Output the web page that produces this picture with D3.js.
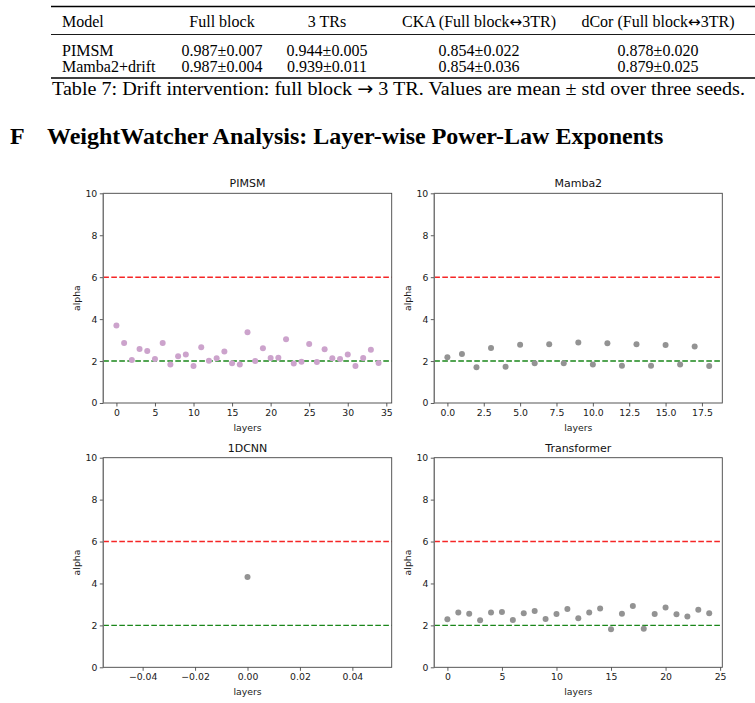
<!DOCTYPE html>
<html>
<head>
<meta charset="utf-8">
<script src="https://cdn.jsdelivr.net/npm/d3@7"></script>
<style>
  html, body { margin: 0; padding: 0; background: #fff; }
  svg { display: block; }
</style>
</head>
<body>
<svg id="chart" width="755" height="703"></svg>
<script>
// ---------- Table data ----------
const tableHeaders = [["Model"], ["Full block"], ["3 TRs"], ["CKA (Full block", "\u2194", "3TR)"], ["dCor (Full block", "\u2194", "3TR)"]];
const tableModels = ["PIMSM", "Mamba2+drift"];
const tableFullBlock = ["0.987\u00b10.007", "0.987\u00b10.004"];
const tableThreeTRs = ["0.944\u00b10.005", "0.939\u00b10.011"];
const tableCKA = ["0.854\u00b10.022", "0.854\u00b10.036"];
const tableDCor = ["0.878\u00b10.020", "0.879\u00b10.025"];
const tableCaption = ["Table 7: Drift intervention: full block ", "\u2192", " 3 TR. Values are mean \u00b1 std over three seeds."];
const sectionLetter = "F";
const sectionTitle = "WeightWatcher Analysis: Layer-wise Power-Law Exponents";

// ---------- Chart data (alpha per layer) ----------
const alphaPIMSM = [3.69, 2.86, 2.05, 2.58, 2.48, 2.10, 2.86, 1.84, 2.23, 2.31,
                    1.76, 2.66, 2.02, 2.13, 2.45, 1.89, 1.84, 3.37, 2.00, 2.61,
                    2.15, 2.16, 3.04, 1.88, 1.97, 2.81, 1.96, 2.56, 2.13, 2.10,
                    2.31, 1.76, 2.15, 2.54, 1.91];
const alphaMamba2 = [2.18, 2.34, 1.70, 2.62, 1.73, 2.78, 1.89, 2.80, 1.89, 2.89,
                     1.83, 2.85, 1.78, 2.80, 1.78, 2.77, 1.84, 2.70, 1.76];
const alpha1DCNN = [4.31];
const alphaTransformer = [2.29, 2.61, 2.56, 2.24, 2.61, 2.64, 2.26, 2.58, 2.69, 2.31,
                          2.54, 2.78, 2.34, 2.61, 2.81, 1.81, 2.56, 2.93, 1.84, 2.54,
                          2.85, 2.53, 2.42, 2.74, 2.58];
const panelTitles = ["PIMSM", "Mamba2", "1DCNN", "Transformer"];
const yTicks = [0, 2, 4, 6, 8, 10];
const xTicksPIMSM = [0, 5, 10, 15, 20, 25, 30, 35];
const xTicksMamba2 = [0, 2.5, 5, 7.5, 10, 12.5, 15, 17.5];
const xTicks1DCNN = [-0.04, -0.02, 0, 0.02, 0.04];
const xTicksTransformer = [0, 5, 10, 15, 20, 25];
const refLines = [6, 2];

const svg = d3.select("#chart");
const serif = "'Liberation Serif', 'Times New Roman', serif";
const sans = "'DejaVu Sans', sans-serif";
const symFont = "'DejaVu Sans', sans-serif";

function addParts(textSel, parts) {
  parts.forEach(s => {
    const t = textSel.append("tspan").text(s);
    if (s === "\u2194" || s === "\u2192") t.attr("font-family", symFont).attr("font-size", "0.95em");
  });
}

// ---------- Table ----------
const tbl = svg.append("g");
tbl.append("line").attr("x1", 51).attr("x2", 755).attr("y1", 6.5).attr("y2", 6.5)
   .attr("stroke", "#000").attr("stroke-width", 1.6);
tbl.append("line").attr("x1", 51).attr("x2", 755).attr("y1", 34.5).attr("y2", 34.5)
   .attr("stroke", "#000").attr("stroke-width", 0.9);
tbl.append("line").attr("x1", 51).attr("x2", 755).attr("y1", 78).attr("y2", 78)
   .attr("stroke", "#000").attr("stroke-width", 1.6);

const colX = [62, 222, 327, 479, 658];
const colAnchor = ["start", "middle", "middle", "middle", "middle"];
tableHeaders.forEach((parts, i) => {
  const t = tbl.append("text")
    .attr("x", colX[i]).attr("y", 27)
    .attr("text-anchor", colAnchor[i])
    .attr("font-family", serif).attr("font-size", 16).attr("fill", "#000");
  addParts(t, parts);
});

const rows = tableModels.map((m, i) => [m, tableFullBlock[i], tableThreeTRs[i], tableCKA[i], tableDCor[i]]);
rows.forEach((r, ri) => {
  tbl.selectAll("text.row" + ri).data(r).join("text")
    .attr("class", "row" + ri)
    .attr("x", (d, i) => colX[i]).attr("y", ri === 0 ? 56 : 72)
    .attr("text-anchor", (d, i) => colAnchor[i])
    .attr("font-family", serif).attr("font-size", 16).attr("fill", "#000")
    .text(d => d);
});
const cap = tbl.append("text").attr("x", 52).attr("y", 95)
  .attr("font-family", serif).attr("font-size", 19.5).attr("fill", "#000")
  .attr("textLength", 693).attr("lengthAdjust", "spacingAndGlyphs");
addParts(cap, tableCaption);

// ---------- Section heading ----------
svg.append("text").attr("x", 10).attr("y", 144)
  .attr("font-family", serif).attr("font-weight", "bold").attr("font-size", 24)
  .text(sectionLetter);
svg.append("text").attr("x", 47).attr("y", 144)
  .attr("font-family", serif).attr("font-weight", "bold").attr("font-size", 24)
  .text(sectionTitle);

// ---------- Panels ----------
function paddedDomain(n) {
  const lo = 0, hi = n - 1;
  if (hi === lo) return [lo - 0.055, hi + 0.055];
  const m = (hi - lo) * 0.05;
  return [lo - m, hi + m];
}

const panels = [
  { title: panelTitles[0], data: alphaPIMSM, color: "#cca3cc", ticks: xTicksPIMSM, fmt: d3.format("d"),
    x0: 103.3, x1: 391.7, y0: 193.3, y1: 403 },
  { title: panelTitles[1], data: alphaMamba2, color: "#939393", ticks: xTicksMamba2, fmt: d3.format(".1f"),
    x0: 434.3, x1: 722.3, y0: 193.3, y1: 403 },
  { title: panelTitles[2], data: alpha1DCNN, color: "#939393", ticks: xTicks1DCNN, fmt: d3.format(".2f"),
    x0: 103.3, x1: 391.7, y0: 457.7, y1: 667.3 },
  { title: panelTitles[3], data: alphaTransformer, color: "#939393", ticks: xTicksTransformer, fmt: d3.format("d"),
    x0: 434.3, x1: 722.3, y0: 457.7, y1: 667.3 }
];

panels.forEach(p => {
  const g = svg.append("g");
  const x = d3.scaleLinear().domain(paddedDomain(p.data.length)).range([p.x0, p.x1]);
  const y = d3.scaleLinear().domain([0, 10]).range([p.y1, p.y0]);

  // reference lines
  const refColors = ["#f52626", "#1a861a"];
  refLines.forEach((v, i) => {
    g.append("line")
      .attr("x1", p.x0).attr("x2", p.x1)
      .attr("y1", y(v)).attr("y2", y(v))
      .attr("stroke", refColors[i]).attr("stroke-width", 1.4)
      .attr("stroke-dasharray", "5.6,2.4");
  });

  // points
  g.selectAll("circle").data(p.data).join("circle")
    .attr("cx", (d, i) => x(i))
    .attr("cy", d => y(d))
    .attr("r", 3)
    .attr("fill", p.color);

  // axes
  const xAxis = d3.axisBottom(x).tickValues(p.ticks).tickFormat(p.fmt).tickSizeOuter(0).tickSize(3.5).tickPadding(2.5);
  const yAxis = d3.axisLeft(y).tickValues(yTicks).tickFormat(d3.format("d")).tickSizeOuter(0).tickSize(3.5).tickPadding(2.5);

  const gx = g.append("g").attr("transform", `translate(0,${p.y1})`).call(xAxis);
  const gy = g.append("g").attr("transform", `translate(${p.x0},0)`).call(yAxis);
  [gx, gy].forEach(a => {
    a.select(".domain").remove();
    a.selectAll(".tick line").attr("stroke", "#333").attr("stroke-width", 0.8);
    a.selectAll(".tick text").attr("font-family", sans).attr("font-size", 9.3).attr("fill", "#1a1a1a");
  });

  // spines (box)
  g.append("rect")
    .attr("x", p.x0).attr("y", p.y0)
    .attr("width", p.x1 - p.x0).attr("height", p.y1 - p.y0)
    .attr("fill", "none").attr("stroke", "#444").attr("stroke-width", 0.9);
  g.append("line")
    .attr("x1", p.x0).attr("x2", p.x0).attr("y1", p.y0).attr("y2", p.y1)
    .attr("stroke", "#777").attr("stroke-width", 1.3);

  // title
  g.append("text").attr("x", (p.x0 + p.x1) / 2).attr("y", p.y0 - 6)
    .attr("text-anchor", "middle").attr("font-family", sans).attr("font-size", 11).attr("fill", "#111")
    .text(p.title);
  // x label
  g.append("text").attr("x", (p.x0 + p.x1) / 2).attr("y", p.y1 + 27.5)
    .attr("text-anchor", "middle").attr("font-family", sans).attr("font-size", 9.3).attr("fill", "#1a1a1a")
    .text("layers");
  // y label
  g.append("text")
    .attr("transform", `translate(${p.x0 - 23.5},${(p.y0 + p.y1) / 2}) rotate(-90)`)
    .attr("text-anchor", "middle").attr("font-family", sans).attr("font-size", 9.3).attr("fill", "#1a1a1a")
    .text("alpha");
});
</script>
</body>
</html>
